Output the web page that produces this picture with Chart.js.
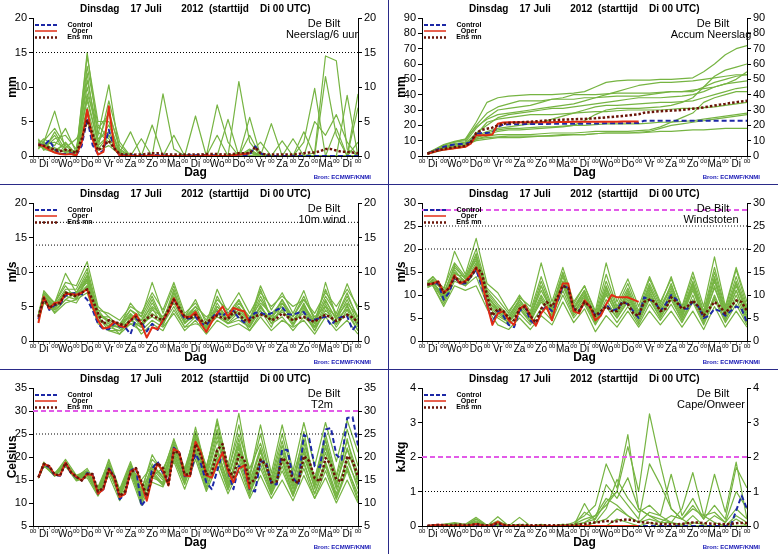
<!DOCTYPE html>
<html>
<head>
<meta charset="utf-8">
<title>EPS De Bilt 17 juli 2012</title>
<script src="https://cdn.jsdelivr.net/npm/chart.js@4.4.1/dist/chart.umd.min.js"></script>
<style>
  html, body { margin: 0; padding: 0; background: #fff; }
  #wrap { position: relative; width: 778px; height: 554px; background: #2a2a88; overflow: hidden; }
  #wrap canvas { position: absolute; background: #fff; display: block; }
</style>
</head>
<body>
<div id="wrap">
  <canvas id="c-neerslag" style="left:0;top:0" width="388" height="184"></canvas>
  <canvas id="c-accum" style="left:389px;top:0" width="389" height="184"></canvas>
  <canvas id="c-wind" style="left:0;top:185px" width="388" height="184"></canvas>
  <canvas id="c-gust" style="left:389px;top:185px" width="389" height="184"></canvas>
  <canvas id="c-temp" style="left:0;top:370px" width="388" height="184"></canvas>
  <canvas id="c-cape" style="left:389px;top:370px" width="389" height="184"></canvas>
</div>
<script>
// ── time axis ─────────────────────────
var dayLabels = ['Di','Wo','Do','Vr','Za','Zo','Ma','Di','Wo','Do','Vr','Za','Zo','Ma','Di'];
var hours6 = [6,12,18,24,30,36,42,48,54,60,66,72,78,84,90,96,102,108,114,120,
  126,132,138,144,150,156,162,168,174,180,186,192,198,204,210,216,222,228,234,240,
  246,252,258,264,270,276,282,288,294,300,306,312,318,324,330,336,342,348,354,360];
var memberHours = [6,12,24,36,48,60,72,84,96,108,120,132,144,156,168,180,192,204,216,228,240,
  252,264,276,288,300,312,324,336,348,360];

// ── Neerslag / 6 uur ──────────────────
var precipControl = [1.7,1.5,2.3,1.0,0.3,0.3,0.4,0.1,1.5,5.5, 1.6,0.3,0.8,3.8,1.2,0.1,0.1,0.1,0.1,0.1,
  0.1,0.2,0.1,0.1,0,0,0,0.1,0.1,0.1, 0.2,0.1,0.1,0.1,0,0,0.1,0.1,0.1,0.2,
  1.4,0.4,0,0,0,0,0,0,0,0, 0,0,0,0,0,0,0,0,0,0];
var precipOper = [1.7,1.4,0.9,0.5,0.3,0.2,0.3,0.1,2.0,6.7, 2.4,0.2,0.6,7.2,1.2,0.1,0,0,0,0,
  0,0.1,0,0,0,0,0,0,0,0, 0,0.1,0,0,0,0,0.1,0.2,0.3,0.4];
var precipMean = [1.6,1.5,1.2,0.9,0.7,0.9,0.8,0.4,2.5,5.2, 3.2,0.8,1.4,2.2,1.1,0.3,0.2,0.3,0.2,0.2,
  0.3,0.4,0.4,0.3,0.2,0.2,0.2,0.2,0.2,0.2, 0.2,0.3,0.3,0.3,0.2,0.2,0.3,0.4,0.4,0.4,
  1.3,0.4,0.2,0.2,0.2,0.2,0.2,0.2,0.3,0.4, 0.5,0.5,0.7,1.0,1.0,0.8,0.6,0.6,0.5,0.4];
var precipMembers = [
  [2.2,2.0, 6.5,1.0,0.3,12.0,1.5,3.0,0.5,0,0, 0,0,0,0.2,0,0,0,0,0.5,0.3, 2.0,0,0,0,0,0.5,14.5,13.8,1.0,0],
  [1.8,2.5, 1.5,4.0,0.5,15.0,3.0,10.3,0.5,0,0, 0,9.0,1.0,0,0,0,0,0,0,0.5, 0,0,0,0,0,0,0,0,0,0],
  [2.3,1.0, 0.5,0.3,0.2,9.0,4.0,6.0,1.5,0,0, 0,0,0,0,0,0,7.4,2.0,0,0, 0.5,0,0,0,0,0,0,0,0,0],
  [1.5,1.2, 2.5,3.0,1.0,8.0,2.0,4.5,0.5,3.5,0, 0,0,0,0,0,0,0,0,10.8,2.0, 0,0,0,0,2.0,9.8,0,0,0,0],
  [1.2,1.5, 1.0,0.5,0,6.0,1.0,3.0,0.3,0,2.5, 0,0,0,0,0,0,0,5.3,0,0, 0,0,0,0,0,0,11.5,3.0,0,0],
  [2.0,0.8, 3.5,0.8,0.4,14.5,5.0,5.0,0.5,0,0, 0,0,0,0,5.8,0,0,0,0,0, 0,0,0,0,0,0,0,0,8.8,0],
  [1.6,1.8, 0.5,2.0,0.2,11.0,3.5,2.0,0.2,0,0, 0,0,3.0,0,0,0,0,0,0,5.6, 0,4.7,0,0,0,0,0,0,0,9.0],
  [1.0,2.2, 4.0,1.5,0.3,7.0,1.2,8.0,2.0,0,0, 0,0,0,0,0,0,0,0,0,0, 0,0,0,2.5,0,5.0,3.0,6.0,2.0,0],
  [2.5,1.0, 1.2,0.6,0.8,10.0,2.5,3.5,0.8,0,0, 4.5,0,0,0,0,0,3.0,0,0,0.5, 0,0,0,0,0,0,0,4.0,0,7.0],
  [1.4,1.6, 2.0,1.2,2.5,5.0,0.8,1.5,0.2,0,0, 0,0,0,0,0,0,0,0,0,1.0, 0,0,2.2,0,0,0,0,0,0,0],
  [1.9,1.3, 3.0,0.4,0.6,13.0,4.5,2.5,0.4,0,0, 0,0,0,0,0,0,0,0,0,0.8, 0,0,0,0,3.5,0,0,0,0,2.0],
  [1.7,2.0, 0.8,1.8,0.3,8.5,2.0,6.5,1.0,0,0, 0,0,0,0,0,0,0,0,0,3.0, 0,0,0,0,0,0,0,0,0,0]
];
var precipDotted = [15];

// ── Accum neerslag ────────────────────
var accumControl = [1.5,3,4.5,6,7,7.5,7.8,8,9,14.5, 15,15,15.5,19,20.5,20.7,20.7,20.7,20.8,20.8,
  20.8,20.9,20.9,21,21,21,21,21,21.1,21.1, 21.2,21.2,21.3,21.3,21.3,21.4,21.4,21.5,21.5,21.5,
  23,23,23,23,23,23,23,23,23,23, 23,23,23,23,23,23,23,23,23,23];
var accumOper = [1.2,2.5,3.5,4,4.5,5,5.5,6,8,13.5, 13.5,13.5,14,21,21.8,22,22,22,22,22,
  22,22,22,22,22.2,22.2,22.2,22.3,22.3,22.3, 22.3,22.3,22.4,22.4,22.4,22.4,22.5,22.5,22.5,22.5];
var accumMean = [1.6,2.8,3.8,4.6,5.2,5.7,6.1,6.5,9,15, 17,17.8,18.5,20,21,21.5,21.8,22,22.2,22.4,
  22.6,22.9,23.1,23.3,23.5,23.7,23.8,24,24.1,24.2, 24.4,24.6,24.9,25.2,25.5,25.8,26.1,26.4,26.8,27.2,
  28.2,28.6,28.9,29.2,29.4,29.6,29.8,30.1,30.4,30.8, 31.2,31.7,32.3,32.9,33.5,34,34.6,35.1,35.6,36];
var accumMembers = [
  [1.5,3,7,9,11,22,35,38,39,39.5,40,40,40,40.5,41,42,45,48,49,49.5,49.5,49.5,50,50,50.5,51,55,60,66,70,72],
  [1.2,2.5,5,6,7,12,14,16,17,17,17.5,18,18.5,19,20,23,27,30,31,31,31,31.5,32,33,35,38,45,52,56,58,60],
  [2,3.5,6,8,9,18,25,30,31,32,33,35,37,38,40,40,40,40.5,41,41,41,41,41.5,42,42,42,45,48,50,52,53],
  [1.4,2.8,4,5,6,11,12,12.5,13,13,13,13,13.5,14,14,14,14.5,15,15,15,15,15.5,16,16,16.5,17,17,17.5,18,18,18],
  [1.6,3.2,6,7.5,8,15,20,25,27,28,29,30,31,31,32,33,34,35,36,37,38,38,38,38.5,39,40,42,45,47,48,49],
  [1.3,2.5,4.5,6,7,10,11,12,12,12,12.5,13,13,13.5,14,14,14.5,15,15,15,15.5,16,18,20,21,22,23,24,25,26,27],
  [1.8,3.5,7,9,10,20,28,32,34,36,36,36,37,37,37,38,38,38.5,39,39,39,40,41,42,42,43,44,45,47,50,55],
  [1.5,3,5,6.5,7.5,13,16,18,19,20,21,22,24,26,28,30,32,33,33,33.5,34,34.5,35,35,35.5,36,38,40,42,44,45],
  [1.2,2.2,4,5,6,12,15,17,18,18,18.5,19,19,19.5,20,20,20.5,21,21,21,21,21.5,22,22,22.5,23,24,25,26,27,28],
  [1.7,3.2,5.5,7,8.5,14,22,24,25,26,27,27,27,27.5,28,28.5,29,29,29.5,30,30,30,30,30.5,31,31,31.5,32,33,34,35],
  [1.4,2.6,4.5,5.5,6.5,11,13,14,14,14,14,14.5,15,15,15,15.5,16,16,16,16,16.5,17,19,22,25,28,35,38,40,42,42],
  [2,3.8,7.5,9.5,11,19,24,27,28,29,30,31,32,33,34,36,38,40,42,44,46,47,48,48,48.5,49,50,51,52,53,53]
];
var accumDotted = [];

// ── 10m wind ──────────────────────────
var windControl = [3.2,6.3,4.5,5.2,5.3,6.6,6.8,7.0,6.8,6.0, 4.5,2.5,1.7,1.7,2.6,2.1,2.0,1.0,3.2,2.8,
  1.4,2.5,1.6,3.0,4.2,6.2,4.5,3.2,3.3,3.5, 2.5,2.3,3.3,4.2,3.6,4.3,4.4,3.3,2.7,3.3,
  4.1,4.1,3.8,4.0,4.5,4.9,3.9,3.8,4.1,4.2, 3.0,3.1,3.3,3.5,2.3,3.1,3.5,3.6,1.6,2.6];
var windOper = [2.6,6.4,4.7,5.5,5.6,6.8,6.8,6.7,7.0,7.5, 5.0,3.0,1.8,2.0,2.8,2.2,2.0,3.0,3.9,2.5,
  0.5,2.0,1.7,3.0,4.2,6.2,4.5,3.5,3.5,4.2, 2.5,1.3,2.8,4.0,5.0,3.5,4.8,4.5,4.3,2.6];
var windMean = [3.5,6.2,4.8,5.3,5.5,7.0,6.7,6.5,7.0,7.5, 6.0,4.0,2.5,3.0,2.8,2.5,2.2,3.0,3.5,2.5,
  3.3,3.7,3.3,3.0,4.5,6.0,4.8,3.5,3.3,3.8, 3.0,2.6,3.3,3.7,3.3,3.2,4.2,4.0,3.0,3.0,
  3.6,3.8,3.6,3.0,3.3,4.0,3.5,3.0,3.3,3.5, 3.0,2.8,3.4,3.8,3.4,2.9,3.3,3.8,3.4,2.7];
var windMembers = [
  [3.5,6.5,5.0,7.0,6.5,8.0,4.0,3.0,2.5,4.5,3.0,6.0,2.5,7.0,3.0,5.0,2.0,6.5,3.5,5.0,2.5,7.5,3.0,6.0,2.5,5.5,2.0,8.5,3.5,7.0,3.0],
  [3.0,5.5,4.5,6.0,7.0,9.0,3.5,2.0,1.5,3.0,2.0,4.5,3.5,5.5,2.5,4.0,1.5,4.0,2.5,3.5,2.0,4.5,2.0,5.5,3.0,4.0,1.5,4.5,2.5,5.0,2.0],
  [4.0,7.0,5.5,8.5,8.0,11.5,5.0,3.5,2.0,5.5,3.5,8.5,4.0,8.0,3.5,6.0,2.5,7.5,4.0,6.0,3.0,8.0,4.5,7.0,4.0,7.3,3.0,6.5,4.0,8.3,4.5],
  [3.2,6.0,4.8,6.5,6.0,7.0,2.5,1.5,1.0,2.5,1.5,3.0,2.0,4.0,1.5,3.0,1.0,3.0,2.0,2.5,1.5,3.5,1.5,3.0,2.0,3.0,1.0,3.5,1.5,3.0,1.0],
  [3.6,6.8,5.2,7.5,7.5,10.5,4.5,2.5,2.0,4.0,2.5,5.5,3.0,6.5,3.0,4.5,2.0,5.5,3.0,4.5,2.5,6.0,3.5,5.0,3.0,5.0,2.5,6.0,3.0,6.0,2.5],
  [2.8,5.8,4.2,6.0,5.5,8.0,3.0,2.5,1.0,3.5,1.0,2.5,1.5,4.5,2.0,3.5,1.5,5.0,3.5,4.0,1.5,4.0,3.0,4.5,2.5,4.5,1.5,5.0,2.0,4.5,1.5],
  [3.4,7.3,5.5,9.8,7.0,9.5,4.5,4.0,3.0,5.0,4.0,7.0,4.5,8.5,4.0,5.5,3.0,6.0,4.5,7.0,4.0,7.0,5.0,6.5,5.0,6.0,4.0,7.0,5.0,7.5,5.0],
  [3.0,6.2,4.0,5.5,6.0,9.0,3.5,1.5,1.5,2.5,2.5,3.5,2.5,5.0,2.0,2.5,2.0,3.5,2.5,3.0,2.0,5.0,2.5,3.5,1.5,3.5,2.0,4.0,2.5,4.0,1.5],
  [3.8,6.6,5.0,7.0,7.0,10.0,4.0,3.0,2.5,3.5,3.0,5.0,3.5,6.0,3.5,5.0,3.5,4.5,3.0,5.5,3.5,5.5,4.0,5.5,3.5,6.0,3.5,5.0,3.5,5.5,3.5],
  [3.3,6.0,4.6,6.8,6.8,8.5,3.0,2.2,2.0,3.0,2.0,4.0,2.8,7.5,2.8,3.5,2.5,4.0,3.8,4.8,3.0,4.8,3.2,4.2,3.0,5.2,2.8,5.8,3.2,4.6,2.8],
  [3.5,7.0,5.5,8.0,6.0,9.5,3.5,3.5,2.0,4.5,3.5,6.5,3.0,7.0,3.5,4.5,2.0,5.0,3.0,6.0,3.0,6.5,3.5,6.0,3.5,6.5,3.0,7.5,3.5,6.5,3.5],
  [3.1,6.3,4.9,7.2,6.3,8.8,3.8,2.8,1.8,3.8,2.2,4.8,2.2,6.2,2.6,4.2,1.8,4.6,2.6,4.2,2.2,5.2,2.6,4.6,2.2,4.8,2.0,5.4,2.4,5.2,2.2]
];
var windDotted = [10.8, 13.9, 17.2];

// ── Windstoten ────────────────────────
var gustControl = [12.2,12.5,12.5,9.0,10.5,14.0,12.5,12.5,14.0,15.5, 12.0,8.0,4.0,6.5,5.5,3.5,3.0,6.5,7.5,4.5,
  3.5,6.5,7.5,6.5,8.5,12.0,11.5,7.0,6.5,8.5, 7.5,5.5,6.0,8.0,6.5,7.0,8.5,8.0,6.5,5.0,
  9.5,9.0,8.5,6.5,8.0,10.0,9.0,7.0,7.0,8.5, 7.5,5.0,5.5,7.0,6.5,5.5,6.5,7.5,7.0,4.0];
var gustOper = [12.3,12.5,13.0,10.5,11.5,14.3,12.5,13.0,14.3,16.0, 13.0,8.0,3.5,6.0,6.5,4.5,3.5,7.0,7.8,5.5,
  3.3,6.0,7.5,4.5,9.0,12.5,12.5,6.5,6.0,8.8, 7.5,4.5,5.5,8.0,10.0,9.5,9.5,9.5,9.0,8.5];
var gustMean = [12.3,12.5,12.8,10.5,11.5,14.0,12.8,12.8,14.0,15.8, 15.0,10.0,5.5,7.0,6.5,5.0,4.5,7.0,7.5,5.5,
  4.0,7.0,8.5,7.5,9.5,12.0,11.5,7.0,6.5,8.5, 7.5,5.5,6.5,7.5,6.5,6.5,8.5,8.0,6.0,5.5,
  8.5,9.0,8.5,6.5,7.0,9.5,8.5,7.0,7.5,8.8, 7.5,5.5,7.0,8.5,7.5,6.0,7.5,8.8,8.5,6.5];
var gustMembers = [
  [12.0,13.0,9.0,15.0,13.0,18.0,10.0,7.0,4.5,8.0,5.0,12.0,6.0,13.0,7.0,10.0,5.0,12.0,6.0,10.0,5.0,11.0,6.0,11.0,5.5,12.0,5.0,13.0,5.5,12.0,6.0],
  [12.5,12.0,8.0,13.0,12.0,14.0,8.0,5.0,3.5,6.0,3.5,7.0,4.5,10.0,5.0,8.0,3.5,7.5,4.0,7.5,3.5,8.0,4.5,8.0,4.0,8.5,3.5,9.0,4.0,8.0,3.5],
  [13.0,14.0,11.0,19.5,14.5,22.3,12.5,10.5,6.5,9.5,7.5,17.0,8.5,16.0,8.5,12.0,6.5,17.0,8.5,13.5,7.5,14.0,8.5,13.5,7.5,15.0,7.5,18.3,7.5,16.0,8.5],
  [11.8,12.5,10.0,14.0,12.5,16.0,9.0,6.0,4.0,7.0,4.0,9.0,5.0,12.0,6.0,9.0,4.0,9.0,5.0,9.0,4.5,9.5,5.0,9.5,4.5,10.0,4.0,10.0,4.5,10.0,4.5],
  [12.2,13.5,10.5,16.0,13.5,19.0,11.0,8.0,5.5,9.0,6.0,13.0,7.0,14.5,7.5,11.0,5.5,13.0,7.0,11.5,6.0,12.5,7.5,12.0,6.5,13.0,6.0,15.0,6.5,14.0,7.0],
  [12.8,12.0,7.5,12.0,11.0,12.0,7.0,3.5,2.5,5.0,2.5,5.5,3.5,8.5,4.0,7.0,2.0,5.5,3.0,6.5,3.0,6.5,3.5,6.5,3.0,6.5,2.5,7.5,3.0,6.5,3.0],
  [12.4,13.0,9.5,14.5,14.0,17.5,9.5,7.0,5.0,8.5,5.5,11.0,6.5,12.5,6.5,9.5,4.5,10.5,5.5,9.5,5.0,10.5,6.0,10.5,5.5,11.0,5.0,11.5,5.5,11.0,5.5],
  [11.6,12.2,9.0,13.5,12.0,15.5,8.5,5.5,4.0,7.5,4.5,8.5,5.5,11.0,5.5,8.5,4.0,8.0,5.0,8.5,4.0,9.0,5.0,9.0,4.5,9.0,4.0,9.5,4.5,9.0,4.0],
  [12.6,14.0,11.5,17.0,14.0,20.0,11.5,9.0,6.0,10.0,6.5,14.0,7.5,15.0,8.0,12.0,6.0,14.5,7.5,12.5,6.5,13.5,8.0,14.0,7.0,14.0,6.5,16.0,7.0,15.5,7.5],
  [12.1,12.8,9.5,15.5,12.5,16.5,10.0,6.5,4.5,8.0,5.0,10.0,6.0,13.0,6.0,10.0,4.5,11.0,6.5,10.5,5.0,10.0,5.5,10.0,5.0,11.5,4.5,12.0,5.0,11.0,5.0],
  [12.3,13.2,8.5,14.0,13.0,17.0,9.0,6.5,4.0,7.0,4.5,9.5,5.0,12.5,7.0,10.5,4.5,10.0,6.0,11.0,5.5,12.0,6.5,12.5,6.0,12.5,5.5,14.0,6.0,13.0,6.5],
  [12.0,12.6,10.0,16.5,13.5,18.5,10.5,7.5,5.0,9.0,5.5,12.0,6.5,14.0,7.0,11.0,5.0,11.5,6.5,10.0,5.5,11.5,7.0,11.5,6.0,12.5,5.5,13.5,6.0,12.5,6.5]
];
var gustDotted = [20, 25];
var gustAlarm = [28.5];

// ── T2m ───────────────────────────────
var tempControl = [15.6,18.3,17.8,16.0,15.9,18.7,16.5,15.6,14.9,16.5, 16.2,12.0,13.0,17.5,15.8,10.8,12.0,17.0,17.8,9.3,
  11.0,17.5,19.0,16.5,14.5,22.0,21.0,15.8,16.0,20.7, 18.5,14.5,13.0,17.0,21.0,17.0,13.0,18.0,17.5,13.0,
  12.5,19.0,19.0,14.3,14.0,21.6,21.5,15.5,14.0,24.8, 24.0,18.0,17.8,26.0,26.3,20.5,19.4,28.5,28.7,22.5];
var tempOper = [15.5,18.5,18.0,16.2,16.0,18.8,16.7,15.7,14.9,16.3, 16.0,12.0,13.0,17.2,15.5,11.3,12.0,16.8,17.5,14.2,
  10.5,15.5,18.5,17.0,13.8,21.8,21.0,16.0,15.8,23.3, 21.0,16.0,15.5,18.5,21.0,17.0,14.5,17.5,18.2,13.0];
var tempMean = [15.6,18.5,18.0,16.2,16.0,18.7,16.7,15.7,14.9,16.3, 16.3,12.5,13.3,17.3,15.8,11.5,12.5,16.5,17.6,14.7,
  11.5,15.8,18.7,17.6,14.0,21.2,20.9,16.2,16.2,22.8, 20.3,16.2,16.5,21.5,22.8,17.5,15.6,20.5,19.5,14.3,
  15.1,19.4,18.3,14.5,14.7,19.8,18.7,15.0,14.3,20.2, 19.1,15.4,14.7,19.8,18.3,15.1,14.7,20.2,19.1,15.8];
var tempMembers = [
  [15.6,18.5,16.0,18.5,15.5,16.5,12.0,17.5,11.0,17.0,14.0,16.0,17.5,22.0,16.0,26.5,17.0,28.3,18.0,29.5,16.0,27.0,16.5,27.0,17.0,27.5,18.0,27.5,19.0,28.0,21.0],
  [15.4,18.0,16.5,18.8,15.2,16.0,13.0,18.0,12.5,17.5,15.0,18.0,15.5,21.0,14.5,22.0,15.0,21.0,13.5,22.0,13.0,20.0,12.5,19.0,12.0,21.0,13.0,19.0,12.0,20.0,13.0],
  [15.8,18.7,16.3,19.5,16.0,17.0,12.5,19.5,13.0,19.0,12.5,20.5,16.5,24.0,17.5,25.0,18.0,26.0,17.0,25.0,17.5,23.0,15.5,25.0,16.0,24.0,15.0,25.0,16.0,26.0,18.0],
  [15.5,18.3,15.8,18.0,14.8,15.5,11.5,16.0,10.5,16.0,9.5,14.5,13.5,19.0,13.0,19.5,12.5,18.0,12.0,17.0,11.0,16.0,11.0,15.0,10.5,16.0,11.0,15.5,10.0,15.0,10.0],
  [15.7,18.6,16.2,18.6,15.8,16.8,12.8,17.0,11.8,16.5,11.0,17.5,15.0,22.5,15.5,24.0,16.0,24.5,16.0,23.0,15.0,21.0,14.5,21.5,15.0,22.0,14.5,22.5,14.0,22.0,15.0],
  [15.5,18.4,16.1,18.2,15.4,16.2,12.2,17.3,12.0,17.2,10.0,16.5,14.0,20.0,14.0,21.5,13.5,20.0,13.0,20.5,12.5,18.5,12.0,18.0,11.5,18.5,12.0,18.0,11.5,17.5,12.0],
  [15.6,18.9,16.4,19.0,15.6,17.5,13.5,19.0,12.5,18.5,13.0,19.5,17.0,23.5,17.0,25.5,17.5,27.5,16.5,27.0,15.5,25.0,15.0,23.5,14.0,25.5,14.0,24.0,13.5,24.0,14.0],
  [15.4,18.1,15.9,18.4,15.0,16.0,11.8,16.8,11.5,16.8,10.5,15.5,14.5,21.5,15.0,23.0,14.5,22.0,14.0,21.0,14.0,19.5,13.0,20.0,13.0,20.0,13.5,21.0,13.0,19.0,14.0],
  [15.7,18.5,16.0,18.7,15.3,17.0,12.7,18.5,12.2,18.0,11.5,18.5,15.5,23.0,16.0,24.5,16.5,25.5,15.0,24.0,14.5,22.0,14.0,22.5,14.5,23.0,15.5,23.5,15.5,23.5,16.5],
  [15.5,18.2,16.2,18.3,15.5,16.5,12.5,17.8,11.8,17.5,11.2,17.0,14.2,20.5,14.8,21.0,14.2,21.5,14.5,19.5,12.0,17.5,11.8,17.0,11.5,17.5,11.0,17.0,10.8,17.0,10.5],
  [15.6,18.7,16.3,18.6,15.7,16.7,13.2,18.2,12.8,18.2,12.0,18.0,16.0,22.0,16.5,23.5,15.5,23.5,15.5,22.5,13.5,21.5,13.5,21.0,13.5,21.5,14.0,22.0,14.5,21.5,15.5],
  [15.6,18.4,16.1,18.5,15.2,16.3,12.3,17.0,11.5,17.2,10.8,16.2,13.8,19.5,14.2,20.5,13.0,19.5,12.8,18.5,11.5,20.0,12.5,19.5,12.0,19.0,12.0,18.5,11.0,18.0,11.0]
];
var tempDotted = [25];
var tempAlarm = [30];

// ── Cape / onweer ─────────────────────
var capeControl = [0,0.01,0.02,0.01,0,0.01,0.01,0,0.01,0.03, 0.01,0,0.02,0.05,0.01,0,0,0,0,0,
  0,0,0,0,0,0,0,0,0,0, 0,0,0,0,0,0,0,0,0,0,
  0,0,0,0,0,0,0,0,0,0, 0,0,0,0,0,0,0,0.45,0.88,0.5];
var capeOper = [0,0.02,0.04,0.02,0,0.01,0.02,0.01,0.02,0.06, 0.02,0,0.03,0.12,0.03,0,0,0,0,0,
  0,0,0,0,0,0,0,0,0,0, 0,0,0,0,0,0,0,0,0,0];
var capeMean = [0.01,0.02,0.03,0.03,0.02,0.03,0.04,0.03,0.03,0.06, 0.03,0.02,0.04,0.08,0.04,0.02,0.02,0.02,0.03,0.02,
  0.02,0.02,0.02,0.02,0.02,0.02,0.03,0.03,0.04,0.06, 0.08,0.1,0.12,0.15,0.12,0.14,0.18,0.19,0.16,0.12,
  0.1,0.09,0.07,0.06,0.05,0.05,0.05,0.06,0.08,0.1, 0.1,0.08,0.07,0.06,0.06,0.05,0.06,0.08,0.09,0.08];
var capeMembers = [
  [0,0.02,0.05,0.1,0.05, 0.25,0.02,0.1,0,0.05, 0,0,0,0,0.1, 0.3,0.6,1.8,1.1,2.65, 0.5,0.3,0.2,0.1,0, 0.3,0,0,0,0.2, 0],
  [0,0.03,0,0.05,0, 0.1,0,0.27,0,0.25, 0,0.05,0,0,0.05, 0.2,0.3,0.6,1.0,2.3, 1.0,3.25,1.8,0.5,0.2, 0,0,0,0,0, 0],
  [0,0,0.03,0,0.02, 0.15,0,0.05,0,0, 0,0,0,0.05,0, 0.65,0.1,0.5,1.35,0.8, 0.4,0.6,0.3,0.1,0.5, 1.55,0.3,0.1,0,0.3, 0.1],
  [0,0.02,0.02,0.08,0, 0.2,0,0.12,0,0, 0,0,0,0,0, 0.1,0.2,0.7,1.0,0.6, 0.2,1.8,1.2,0.5,0.2, 0.6,0.2,1.5,0.4,1.85, 0.2],
  [0,0,0,0.02,0, 0.05,0,0.05,0,0, 0,0,0,0,0, 0,0.1,0.2,0.5,0.3, 0.1,0.4,0.3,1.5,0.3, 0.8,0.2,0.6,0.2,1.7, 1.1],
  [0,0.01,0.03,0.04,0.01, 0.12,0.01,0.08,0.01,0.02, 0,0.01,0,0.02,0.05, 0.1,0.3,0.8,0.6,0.3, 0.1,0.2,0.1,0.1,0.05, 0.1,0.05,0.3,0.1,0.5, 0.2],
  [0,0,0,0,0, 0.05,0,0.02,0,0, 0,0,0,0,0, 0,0,0,0.2,0.1, 0,0.1,0,0,0, 0,0,0,0,0, 0],
  [0,0.02,0.05,0.06,0.02, 0.2,0,0.15,0,0.05, 0,0,0,0.05,0.02, 0.4,0.2,1.2,0.8,1.4, 0.5,0.3,0.1,0.3,0.2, 0.5,0.3,0.4,0.1,1.0, 0.5]
];
var capeDotted = [1];
var capeAlarm = [2];

// ── styling ───────────────────────────
var FONT = '"Liberation Sans", Arial, Helvetica, sans-serif';
var GREEN = 'rgb(118,180,66)';
var BLUE = '#1c28a6';
var RED = '#e02c14';
var BROWN = '#6a1408';
var MAGENTA = '#e25ae8';
var TITLE = 'Dinsdag    17 Juli       2012  (starttijd    Di 00 UTC)';

Chart.defaults.font.family = FONT;
Chart.defaults.color = '#000';

function pts(hours, vals) {
  return vals.map(function (v, i) { return { x: hours[i], y: v }; });
}
function hline(v) { return [{ x: 0, y: v }, { x: 360, y: v }]; }

// titles, legend, labels drawn on top of the plot
var panelText = {
  id: 'panelText',
  afterDraw: function (chart, args, opts) {
    var ctx = chart.ctx, a = chart.chartArea;
    ctx.save();
    ctx.textBaseline = 'middle';
    ctx.fillStyle = '#000';
    ctx.textAlign = 'left';
    ctx.font = 'bold 10px ' + FONT;
    ctx.fillText(TITLE, 80, 9);

    // legend
    var lx = a.left + 2, lw = 22;
    function seg(y, color, width, dash) {
      ctx.beginPath();
      ctx.setLineDash(dash);
      ctx.strokeStyle = color;
      ctx.lineWidth = width;
      ctx.moveTo(lx, y);
      ctx.lineTo(lx + lw, y);
      ctx.stroke();
    }
    seg(a.top + 7, BLUE, 2, [4, 2]);
    seg(a.top + 13, RED, 1.5, []);
    seg(a.top + 19.5, BROWN, 2.5, [2, 2]);
    ctx.setLineDash([]);
    ctx.textAlign = 'center';
    ctx.font = 'bold 7px ' + FONT;
    ctx.fillText('Control', a.left + 47, a.top + 7);
    ctx.fillText('Oper', a.left + 47, a.top + 13);
    ctx.fillText('Ens mn', a.left + 47, a.top + 19.5);

    // station + parameter
    ctx.font = '11px ' + FONT;
    ctx.fillText('De Bilt', a.right - 34, a.top + 6);
    ctx.fillText(opts.label, a.right - 36, a.top + 17);

    // x title and source
    ctx.font = 'bold 12px ' + FONT;
    ctx.fillText('Dag', (a.left + a.right) / 2, 173);
    ctx.textAlign = 'right';
    ctx.font = 'bold 6px ' + FONT;
    ctx.fillStyle = '#1414b4';
    ctx.fillText('Bron: ECMWF/KNMI', 371, 177);
    ctx.restore();
  }
};

function makePanel(id, p) {
  var ds = [];
  p.members.forEach(function (m) {
    ds.push({ data: pts(memberHours, m), borderColor: GREEN, borderWidth: 1.2, order: 10 });
  });
  (p.dotted || []).forEach(function (v) {
    ds.push({ data: hline(v), borderColor: '#000', borderWidth: 1, borderDash: [1, 2], order: 6 });
  });
  (p.alarm || []).forEach(function (v) {
    ds.push({ data: hline(v), borderColor: MAGENTA, borderWidth: 2, borderDash: [5, 3], order: 5 });
  });
  ds.push({ data: pts(hours6, p.control), borderColor: BLUE, borderWidth: 2, borderDash: [5, 3], order: 3 });
  ds.push({ data: pts(hours6, p.oper), borderColor: RED, borderWidth: 2, order: 2 });
  ds.push({ data: pts(hours6, p.mean), borderColor: BROWN, borderWidth: 2.5, borderDash: [2.5, 2], order: 1 });

  var yTicks = { stepSize: p.step, autoSkip: false, color: '#000', padding: 2, font: { size: 11 } };
  var yGrid = { drawOnChartArea: false, tickLength: 4, color: '#000' };

  new Chart(document.getElementById(id), {
    type: 'line',
    data: { datasets: ds },
    options: {
      responsive: false,
      animation: false,
      events: [],
      layout: { padding: { top: 18, left: 0, right: 0, bottom: 0 } },
      elements: { point: { radius: 0 }, line: { tension: 0, borderJoinStyle: 'round' } },
      plugins: { legend: { display: false }, tooltip: { enabled: false }, panelText: { label: p.label } },
      scales: {
        x: {
          type: 'linear', position: 'bottom', min: 0, max: 360,
          afterFit: function (s) { s.height = 28; },
          ticks: {
            stepSize: 6, autoSkip: false, maxRotation: 0, minRotation: 0, padding: -1, color: '#000',
            callback: function (v) {
              if (v % 24 === 0) return '00';
              if (v % 24 === 12) return dayLabels[Math.floor(v / 24)];
              return '';
            },
            font: function (c) {
              return (c.tick && c.tick.value % 24 === 0) ? { size: 6, family: FONT } : { size: 10, family: FONT };
            }
          },
          grid: { drawOnChartArea: false, tickLength: 3, color: '#888' },
          border: { display: true, color: '#000', width: 1 }
        },
        y: {
          position: 'left', min: p.ymin, max: p.ymax,
          afterFit: function (s) { s.width = 33; },
          ticks: yTicks, grid: yGrid,
          border: { display: true, color: '#000', width: 1 },
          title: { display: true, text: p.ytitle, color: '#000', padding: { top: 5, bottom: 0 },
                   font: { size: 12, weight: 'bold' } }
        },
        y2: {
          position: 'right', min: p.ymin, max: p.ymax,
          afterFit: function (s) { s.width = s.chart.width - 358; },
          ticks: yTicks, grid: yGrid,
          border: { display: true, color: '#000', width: 1 }
        }
      }
    },
    plugins: [panelText]
  });
}

makePanel('c-neerslag', { ymin: 0, ymax: 20, step: 5, ytitle: 'mm', label: 'Neerslag/6 uur',
  members: precipMembers, control: precipControl, oper: precipOper, mean: precipMean, dotted: precipDotted });
makePanel('c-accum', { ymin: 0, ymax: 90, step: 10, ytitle: 'mm', label: 'Accum Neerslag',
  members: accumMembers, control: accumControl, oper: accumOper, mean: accumMean, dotted: accumDotted });
makePanel('c-wind', { ymin: 0, ymax: 20, step: 5, ytitle: 'm/s', label: '10m wind',
  members: windMembers, control: windControl, oper: windOper, mean: windMean, dotted: windDotted });
makePanel('c-gust', { ymin: 0, ymax: 30, step: 5, ytitle: 'm/s', label: 'Windstoten',
  members: gustMembers, control: gustControl, oper: gustOper, mean: gustMean, dotted: gustDotted, alarm: gustAlarm });
makePanel('c-temp', { ymin: 5, ymax: 35, step: 5, ytitle: 'Celsius', label: 'T2m',
  members: tempMembers, control: tempControl, oper: tempOper, mean: tempMean, dotted: tempDotted, alarm: tempAlarm });
makePanel('c-cape', { ymin: 0, ymax: 4, step: 1, ytitle: 'kJ/kg', label: 'Cape/Onweer',
  members: capeMembers, control: capeControl, oper: capeOper, mean: capeMean, dotted: capeDotted, alarm: capeAlarm });
</script>
</body>
</html>
